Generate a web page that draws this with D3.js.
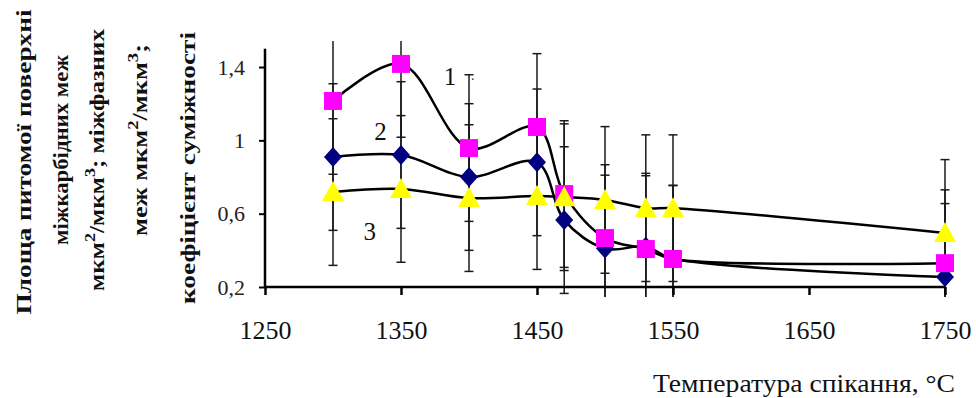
<!DOCTYPE html>
<html>
<head>
<meta charset="utf-8">
<script src="https://cdn.jsdelivr.net/npm/d3@7"></script>
<style>
  body { margin: 0; background: #fff; }
  svg text { font-family: 'Liberation Serif', 'Times New Roman', serif !important; }
</style>
</head>
<body>
<div id="chart"></div>
<script>
// temperatures (°C)
const temps = [1300, 1350, 1400, 1450, 1470, 1500, 1530, 1550, 1750];

// series 1 - magenta squares
const series1 = [1.215, 1.417, 0.958, 1.073, 0.707, 0.467, 0.407, 0.353, 0.33];
// series 2 - navy diamonds
const series2 = [0.909, 0.92, 0.80, 0.88, 0.565, 0.41, 0.42, 0.355, 0.255];
// series 3 - yellow triangles
const series3 = [0.718, 0.735, 0.685, 0.696, 0.69, 0.675, 0.63, 0.63, 0.495];

// error bar half-widths (fixed value)
const err1 = [0.4, 0.4, 0.4, 0.4, 0.4, 0.4, 0.4, 0.4, 0.4];
const err2 = [0.4, 0.4, 0.4, 0.4, 0.4, 0.4, 0.4, 0.4, 0.4];
const err3 = [0.4, 0.4, 0.4, 0.4, 0.4, 0.4, 0.4, 0.4, 0.4];

const xTicks = [1250, 1350, 1450, 1550, 1650, 1750];
const yTicks = [0.2, 0.6, 1.0, 1.4];

const W = 976, H = 398;
const FONT = "'Liberation Serif', 'Times New Roman', serif";

const svg = d3.select('#chart').append('svg')
    .attr('width', W)
    .attr('height', H)
    .style('display', 'block');

const x = d3.scaleLinear().domain([1250, 1750]).range([265, 945]);
const y = d3.scaleLinear().domain([0.2, 1.5]).range([287, 48.7]);

// plot area clip for error bars
svg.append('defs').append('clipPath').attr('id', 'plotClip')
    .append('rect')
    .attr('x', 0).attr('y', 41)
    .attr('width', W).attr('height', 256);

const seriesList = [
    { key: 2, values: series2, err: err2, shape: 'diamond', fill: '#000080' },
    { key: 1, values: series1, err: err1, shape: 'square', fill: '#ff00ff' },
    { key: 3, values: series3, err: err3, shape: 'triangle', fill: '#ffff00' }
];

// Error bars
const eb = svg.append('g').attr('clip-path', 'url(#plotClip)')
    .attr('stroke', '#1a1a1a')
    .attr('stroke-width', 1.5);

seriesList.forEach(s => {
    temps.forEach((t, i) => {
        const cx = x(t);
        const top = y(s.values[i] + s.err[i]);
        const bot = y(s.values[i] - s.err[i]);
        eb.append('line').attr('x1', cx).attr('x2', cx).attr('y1', top).attr('y2', bot);
        eb.append('line').attr('x1', cx - 4.5).attr('x2', cx + 4.5).attr('y1', top).attr('y2', top);
        eb.append('line').attr('x1', cx - 4.5).attr('x2', cx + 4.5).attr('y1', bot).attr('y2', bot);
    });
});

// Axes
const yAxis = svg.append('g')
    .attr('transform', `translate(${x(1250)},0)`)
    .call(d3.axisLeft(y)
        .tickValues(yTicks)
        .tickSize(6)
        .tickPadding(14)
        .tickFormat(d => String(d).replace('.', ',')));
yAxis.attr('font-family', null);
yAxis.select('.domain').attr('stroke', '#000').attr('stroke-width', 2.5).attr('d', `M0,${y(1.5)}V${y(0.2)}`);
yAxis.selectAll('.tick line').attr('stroke', '#000').attr('stroke-width', 2);
yAxis.selectAll('.tick text')
    .style('font-family', FONT)
    .style('font-size', '22px')
    .attr('fill', '#2a2018');

const xAxis = svg.append('g')
    .attr('transform', `translate(0,${y(0.2)})`)
    .call(d3.axisBottom(x)
        .tickValues(xTicks)
        .tickSize(8)
        .tickFormat(d3.format('d')));
xAxis.attr('font-family', null);
xAxis.select('.domain').attr('stroke', '#000').attr('stroke-width', 2.5).attr('d', `M${x(1250)},0H${x(1750)}`);
xAxis.selectAll('.tick line').attr('stroke', '#000').attr('stroke-width', 2.5);
xAxis.selectAll('.tick text')
    .attr('y', 52)
    .attr('dy', null)
    .style('font-family', FONT)
    .style('font-size', '26px')
    .attr('fill', '#111');

// Lines (smoothed)
const line = d3.line()
    .x(d => x(d[0]))
    .y(d => y(d[1]))
    .curve(d3.curveCatmullRom.alpha(0.5));

seriesList.forEach(s => {
    svg.append('path')
        .datum(temps.map((t, i) => [t, s.values[i]]))
        .attr('fill', 'none')
        .attr('stroke', '#000')
        .attr('stroke-width', 2.5)
        .attr('d', line);
});

// Markers
const shapes = {
    square: 'M-9,-9H9V9H-9Z',
    diamond: 'M0,-10L9,0L0,10L-9,0Z',
    triangle: 'M0,-11L11,9H-11Z'
};

seriesList.forEach(s => {
    svg.append('g').selectAll('path')
        .data(temps.map((t, i) => [t, s.values[i]]))
        .join('path')
        .attr('transform', d => `translate(${x(d[0])},${y(d[1])})`)
        .attr('d', shapes[s.shape])
        .attr('fill', s.fill);
});

// Series labels
const labels = [
    { text: '1', t: 1386, v: 1.30 },
    { text: '2', t: 1335, v: 1.0 },
    { text: '3', t: 1327, v: 0.456 }
];
svg.append('g').selectAll('text')
    .data(labels)
    .join('text')
    .attr('x', d => x(d.t))
    .attr('y', d => y(d.v))
    .attr('text-anchor', 'middle')
    .style('font-size', '25px')
    .attr('fill', '#111')
    .text(d => d.text);
svg.append('text')
    .attr('x', 471).attr('y', 80)
    .style('font-size', '14px')
    .attr('fill', '#333')
    .text('.');

// X axis title
svg.append('text')
    .attr('x', 955)
    .attr('y', 392)
    .attr('text-anchor', 'end')
    .style('font-size', '26px')
    .attr('fill', '#111')
    .attr('textLength', 302)
    .attr('lengthAdjust', 'spacingAndGlyphs')
    .text('Температура спікання, °C');

// Y axis titles (rotated)
const titleLines = [
    { cx: 31, cy: 162, len: 305, parts: [['Площа питомої поверхні']] },
    { cx: 68, cy: 150, len: 190, parts: [['міжкарбідних меж']] },
    { cx: 104, cy: 160, len: 262, parts: [['мкм'], ['2', 's'], ['/мкм'], ['3', 's'], ['; міжфазних']] },
    { cx: 147, cy: 140, len: 192, parts: [['меж мкм'], ['2', 's'], ['/мкм'], ['3', 's'], [';']] },
    { cx: 195, cy: 168, len: 272, parts: [['коефіцієнт суміжності']] }
];

titleLines.forEach(l => {
    const txt = svg.append('text')
        .attr('transform', `translate(${l.cx},${l.cy}) rotate(-90)`)
        .attr('text-anchor', 'middle')
        .style('font-size', '21px')
        .style('font-weight', 'bold')
        .attr('fill', '#111')
        .attr('textLength', l.len)
        .attr('lengthAdjust', 'spacingAndGlyphs');
    let raised = false;
    l.parts.forEach(p => {
        const ts = txt.append('tspan').text(p[0]);
        if (p[1] === 's') {
            ts.attr('dy', -9).style('font-size', '15px');
            raised = true;
        } else if (raised) {
            ts.attr('dy', 9);
            raised = false;
        }
    });
});
</script>
</body>
</html>
